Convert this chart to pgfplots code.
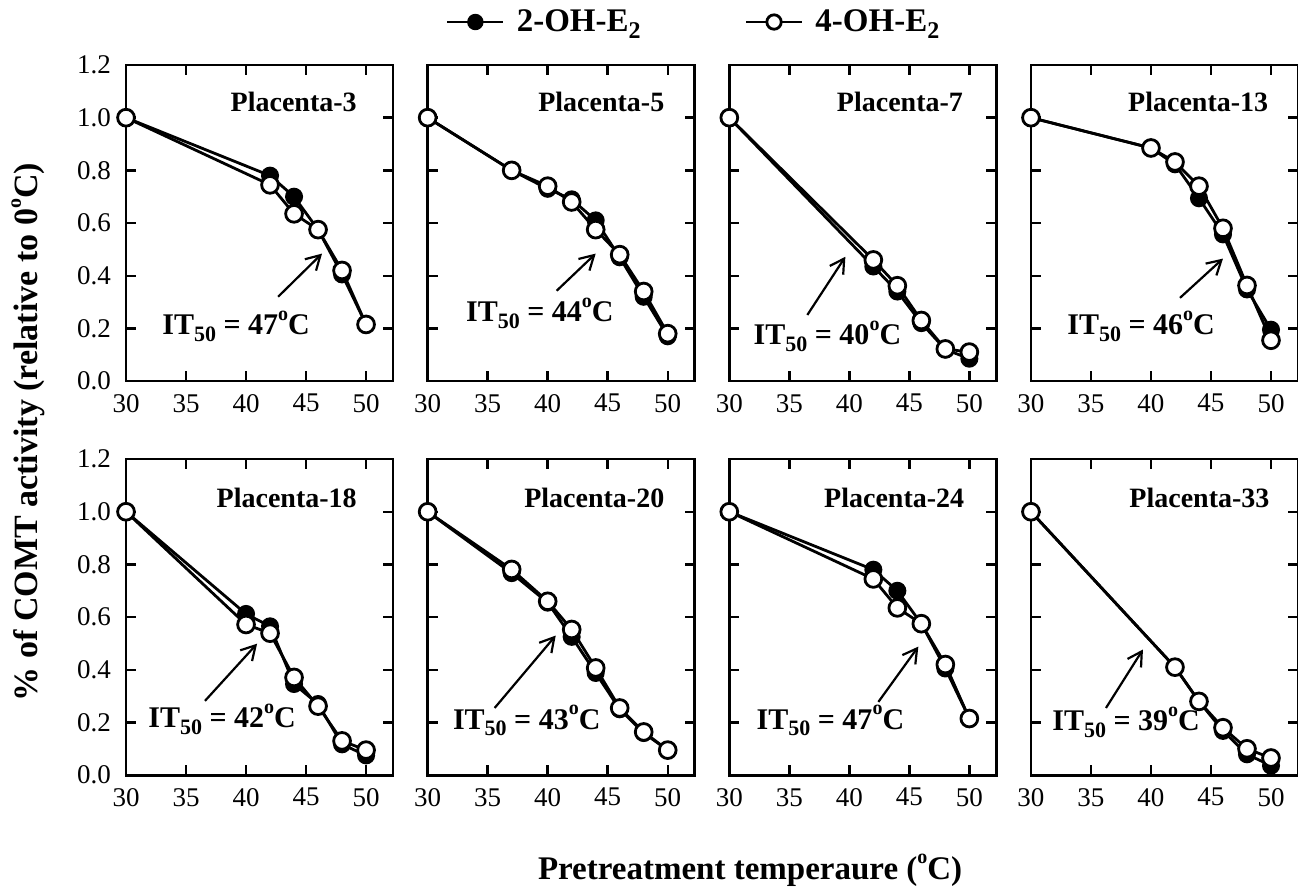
\documentclass[border=0pt]{standalone}
\usepackage{pgfplots}
\pgfplotsset{compat=1.18}
\usepgfplotslibrary{groupplots}
\usetikzlibrary{arrows.meta}
\usepackage{fontspec}
\setmainfont{Liberation Serif}

\pgfplotsset{
  panel/.style={
    scale only axis, width=133.5pt, height=158pt,
    xmin=30, xmax=52.25, ymin=0, ymax=1.2,
    xtick={30,35,40,45,50}, ytick={0,0.2,0.4,0.6,0.8,1.0,1.2},
    tick align=inside, major tick length=5pt,
    axis line style={line width=1.4pt},
    every tick/.style={line width=1.2pt, black},
    tick label style={font=\fontsize{13.5}{15}\selectfont},
    xticklabel style={yshift=-3pt},
    yticklabel style={xshift=-4pt, /pgf/number format/.cd, fixed, fixed zerofill, precision=1},
    /pgf/number format/assume math mode=true,
    clip=false,
    legend image code/.code={\draw[mark repeat=2,mark phase=2,##1,mark size=3.6pt] plot coordinates {(0pt,0pt) (14pt,0pt) (28pt,0pt)};},
  },
  filled/.style={black, line width=1.4pt, mark=*, mark size=4pt, mark options={fill=black, draw=black, line width=1pt, solid}},
  open/.style={black, line width=1.4pt, mark=*, mark size=4.2pt, mark options={fill=white, draw=black, line width=1.4pt, solid}},
}
\tikzset{
  ttl/.style={anchor=east, inner sep=0pt, font=\bfseries\fontsize{14}{16}\selectfont},
  itl/.style={anchor=base west, inner sep=0pt, font=\bfseries\fontsize{15}{17}\selectfont},
  arr/.style={-{Straight Barb[length=7pt,width=8pt]}, line width=1.1pt},
}
\newcommand\dego{\raisebox{1.05ex}{\fontsize{10}{11}\selectfont o}}
\newcommand\IT[1]{IT\raisebox{-0.5ex}{\fontsize{11}{12}\selectfont 50} = #1\dego C}

\begin{document}
\begin{tikzpicture}
\begin{groupplot}[group style={group size=4 by 2, horizontal sep=17.3pt, vertical sep=39pt, yticklabels at=edge left}, panel]
% Placenta-3
\nextgroupplot
\addplot[filled] coordinates {(30,1) (42,0.78) (44,0.70) (46,0.575) (48,0.405) (50,0.215)};
\addplot[open] coordinates {(30,1) (42,0.745) (44,0.635) (46,0.575) (48,0.42) (50,0.215)};
\node[ttl] at (axis cs:49.25,1.06) {Placenta-3};
\node[itl] at (axis cs:33.0,0.175) {\IT{47}};
\draw[arr] (axis cs:42.67,0.32) -- (axis cs:46.33,0.484);
% Placenta-5
\nextgroupplot[legend style={at={(0.067,1.136)}, anchor=west, draw=none, fill=none, inner xsep=0pt, legend columns=2, font=\bfseries\fontsize{16.5}{18}\selectfont, /tikz/every even column/.append style={column sep=50pt}, /tikz/every odd column/.append style={column sep=4pt}}]
\addplot[filled] coordinates {(30,1) (37,0.80) (40,0.73) (42,0.69) (44,0.61) (46,0.47) (48,0.32) (50,0.17)};
\addplot[open] coordinates {(30,1) (37,0.80) (40,0.74) (42,0.68) (44,0.575) (46,0.48) (48,0.34) (50,0.18)};
\legend{2-OH-E\raisebox{-0.45ex}{\fontsize{12}{13}\selectfont 2}, 4-OH-E\raisebox{-0.45ex}{\fontsize{12}{13}\selectfont 2}}
\node[ttl] at (axis cs:49.75,1.06) {Placenta-5};
\node[itl] at (axis cs:33.17,0.225) {\IT{44}};
\draw[arr] (axis cs:40.75,0.343) -- (axis cs:44.0,0.484);
% Placenta-7
\nextgroupplot
\addplot[filled] coordinates {(30,1) (42,0.435) (44,0.34) (46,0.22) (48,0.12) (50,0.085)};
\addplot[open] coordinates {(30,1) (42,0.46) (44,0.362) (46,0.23) (48,0.122) (50,0.11)};
\node[ttl] at (axis cs:49.5,1.06) {Placenta-7};
\node[itl] at (axis cs:32.0,0.137) {\IT{40}};
\draw[arr] (axis cs:36.5,0.251) -- (axis cs:39.67,0.472);
% Placenta-13
\nextgroupplot
\addplot[filled] coordinates {(30,1) (40,0.885) (42,0.823) (44,0.694) (46,0.557) (48,0.348) (50,0.195)};
\addplot[open] coordinates {(30,1) (40,0.885) (42,0.832) (44,0.74) (46,0.58) (48,0.363) (50,0.155)};
\node[ttl] at (axis cs:49.8,1.06) {Placenta-13};
\node[itl] at (axis cs:33.0,0.175) {\IT{46}};
\draw[arr] (axis cs:42.42,0.316) -- (axis cs:46.0,0.465);
% Placenta-18
\nextgroupplot
\addplot[filled] coordinates {(30,1) (40,0.612) (42,0.565) (44,0.346) (46,0.27) (48,0.117) (50,0.075)};
\addplot[open] coordinates {(30,1) (40,0.572) (42,0.539) (44,0.371) (46,0.262) (48,0.13) (50,0.095)};
\node[ttl] at (axis cs:49.25,1.052) {Placenta-18};
\node[itl] at (axis cs:31.83,0.179) {\IT{42}};
\draw[arr] (axis cs:36.58,0.282) -- (axis cs:40.92,0.499);
% Placenta-20
\nextgroupplot
\addplot[filled] coordinates {(30,1) (37,0.767) (40,0.655) (42,0.525) (44,0.388) (46,0.25) (48,0.16) (50,0.095)};
\addplot[open] coordinates {(30,1) (37,0.781) (40,0.66) (42,0.553) (44,0.407) (46,0.255) (48,0.164) (50,0.095)};
\node[ttl] at (axis cs:49.75,1.052) {Placenta-20};
\node[itl] at (axis cs:32.08,0.175) {\IT{43}};
\draw[arr] (axis cs:35.58,0.255) -- (axis cs:40.67,0.53);
% Placenta-24
\nextgroupplot
\addplot[filled] coordinates {(30,1) (42,0.78) (44,0.70) (46,0.575) (48,0.405) (50,0.215)};
\addplot[open] coordinates {(30,1) (42,0.745) (44,0.635) (46,0.575) (48,0.42) (50,0.215)};
\node[ttl] at (axis cs:49.6,1.052) {Placenta-24};
\node[itl] at (axis cs:32.25,0.175) {\IT{47}};
\draw[arr] (axis cs:42.42,0.278) -- (axis cs:45.75,0.488);
% Placenta-33
\nextgroupplot
\addplot[filled] coordinates {(30,1) (42,0.41) (44,0.28) (46,0.168) (48,0.079) (50,0.036)};
\addplot[open] coordinates {(30,1) (42,0.41) (44,0.28) (46,0.18) (48,0.10) (50,0.065)};
\node[ttl] at (axis cs:49.9,1.052) {Placenta-33};
\node[itl] at (axis cs:31.75,0.168) {\IT{39}};
\draw[arr] (axis cs:36.25,0.255) -- (axis cs:39.33,0.477);
\end{groupplot}
\node[rotate=90, font=\bfseries\fontsize{17}{19}\selectfont] at ([xshift=-49pt,yshift=-183.5pt]group c1r1.north west) {\% of COMT activity (relative to 0\dego C)};
\node[font=\bfseries\fontsize{16.5}{19}\selectfont] at ([xshift=312pt,yshift=-47.5pt]group c1r2.south west) {Pretreatment temperaure (\dego C)};
\pgfresetboundingbox
\path ([xshift=-63pt,yshift=32.5pt]group c1r1.north west) rectangle ([yshift=-60pt]group c4r2.south east);
\end{tikzpicture}
\end{document}
